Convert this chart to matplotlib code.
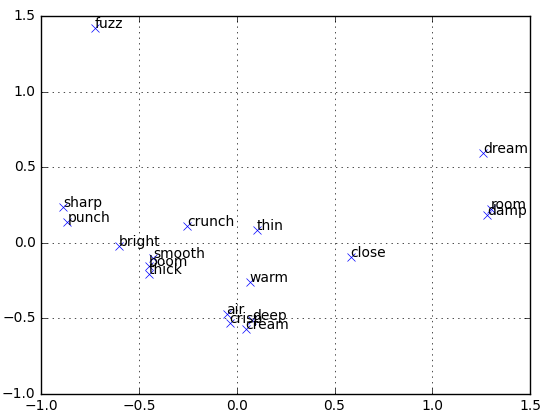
import matplotlib
matplotlib.use('Agg')
from matplotlib import pyplot as plt

# word positions in 2-D space
words = ['fuzz', 'dream', 'room', 'damp', 'sharp', 'punch', 'crunch', 'thin',
         'bright', 'close', 'smooth', 'boom', 'thick', 'warm', 'air', 'crisp',
         'deep', 'cream']
xs = [-0.727, 1.258, 1.299, 1.278, -0.887, -0.866, -0.253, 0.103,
      -0.603, 0.582, -0.428, -0.448, -0.448, 0.067, -0.052, -0.036,
      0.077, 0.046]
ys = [1.42, 0.592, 0.224, 0.184, 0.237, 0.138, 0.112, 0.086,
      -0.02, -0.092, -0.099, -0.151, -0.204, -0.257, -0.474, -0.533,
      -0.513, -0.572]

plt.style.use('classic')
fig = plt.figure(figsize=(5.41, 4.12), dpi=100, facecolor='white')
ax = fig.add_axes([0.076, 0.044, 0.904, 0.917])

ax.plot(xs, ys, 'bx', linestyle='none', markersize=6)
for w, x, y in zip(words, xs, ys):
    ax.text(x, y, w, fontsize=10)

ax.set_xlim(-1.0, 1.5)
ax.set_ylim(-1.0, 1.5)
ax.grid(True)
ax.tick_params(labelsize=10)

fig.savefig('out.png', dpi=100, facecolor='white')
